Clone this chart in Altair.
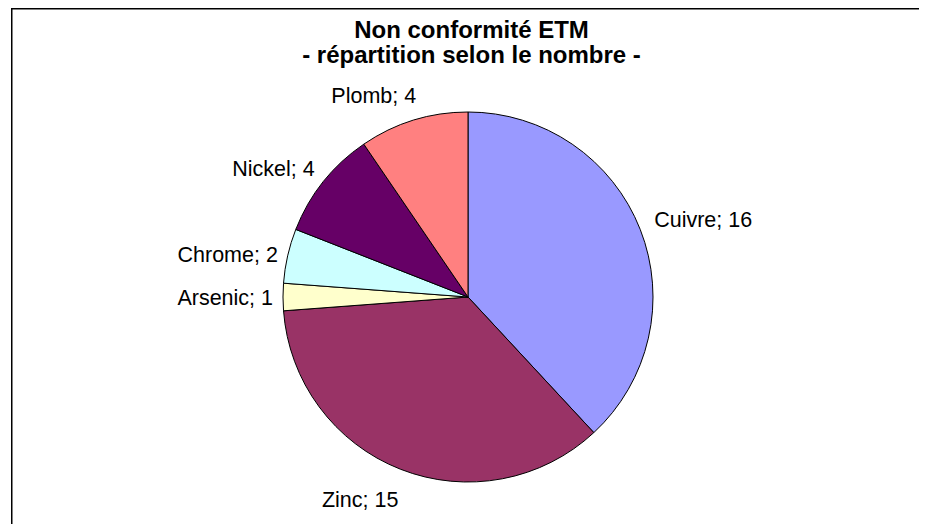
import json
import altair as alt
import pandas as pd

# ---- data ----
names = ["Cuivre", "Zinc", "Arsenic", "Chrome", "Nickel", "Plomb"]
counts = [16, 15, 1, 2, 4, 4]
title_lines = ["Non conformité ETM", "- répartition selon le nombre -"]
colors = ["#9999FF", "#993366", "#FFFFCC", "#CCFFFF", "#660066", "#FF8080"]

df = pd.DataFrame({"name": names, "count": counts, "idx": list(range(len(names)))})
df["label"] = [f"{n}; {c}" for n, c in zip(names, counts)]

W, H = 911, 516
CX, CY, R = 460, 289, 185
FONT = "Liberation Sans"

base = alt.Chart(df).encode(
    theta=alt.Theta("count:Q", stack=True),
    order=alt.Order("idx:Q", sort="ascending"),
    x=alt.value(CX),
    y=alt.value(CY),
)

pie = base.mark_arc(radius=R, stroke="black", strokeWidth=1).encode(
    color=alt.Color("name:N", scale=alt.Scale(domain=names, range=colors), legend=None)
)


def labels(group, align, baseline, radius, dx=0, dy=0):
    expr = "indexof(" + json.dumps(group) + ", datum.name) >= 0 ? datum.label : ''"
    return base.transform_calculate(lbl=expr).mark_text(
        radius=radius, align=align, baseline=baseline, dx=dx, dy=dy,
        font=FONT, fontSize=21.5, color="black",
    ).encode(text="lbl:N")


lab_right = labels(["Cuivre"], "left", "alphabetic", 200, 0, 3)
lab_left = labels(["Arsenic", "Chrome"], "right", "middle", 195, 0, 2)
lab_nickel = labels(["Nickel"], "right", "alphabetic", 196, 0, 1)
lab_plomb = labels(["Plomb"], "right", "alphabetic", 203, 8, 0)
lab_zinc = labels(["Zinc"], "right", "alphabetic", 226, 13, 0)

# chart frame: only its top and left edges fall inside the picture
one = pd.DataFrame({"f": [0]})
frame_top = alt.Chart(one).mark_rule(color="black", strokeWidth=1.5).encode(
    x=alt.value(3), x2=alt.value(W), y=alt.value(0.75)
)
frame_left = alt.Chart(one).mark_rule(color="black", strokeWidth=1.5).encode(
    x=alt.value(3.75), y=alt.value(0), y2=alt.value(H)
)

chart = alt.layer(
    frame_top, frame_left, pie, lab_right, lab_left, lab_nickel, lab_plomb, lab_zinc
).properties(
    width=W,
    height=H,
    padding=0,
    autosize=alt.AutoSizeParams(type="none"),
    background="white",
    title=alt.TitleParams(
        text=title_lines,
        font=FONT,
        fontSize=24,
        fontWeight="bold",
        color="black",
        lineHeight=25,
        anchor="middle",
        frame="group",
        offset=-61,
        dx=8,
    ),
).configure_view(strokeWidth=0)

chart.save("out.html", embed_options={"renderer": "svg", "actions": False})
